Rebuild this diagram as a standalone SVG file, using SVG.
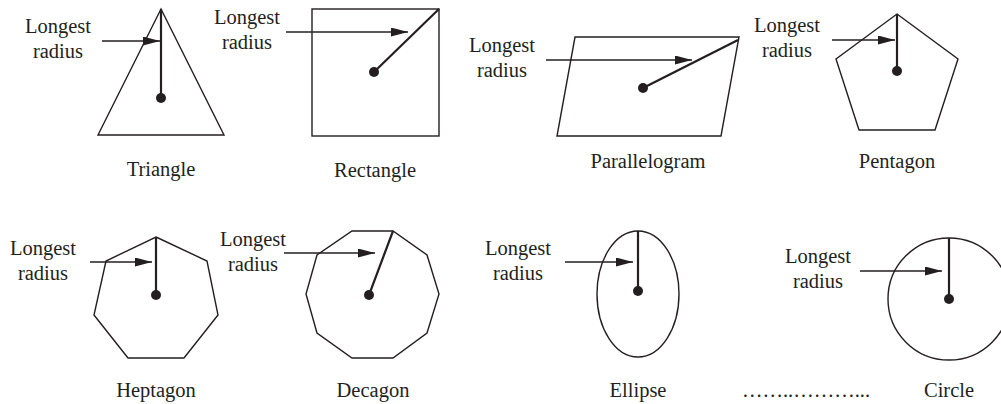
<svg xmlns="http://www.w3.org/2000/svg" width="1001" height="404" viewBox="0 0 1001 404">
<defs>
<marker id="ah" markerUnits="userSpaceOnUse" markerWidth="18" markerHeight="10" refX="17" refY="4.5" orient="auto">
<path d="M0,0 L17,4.5 L0,9 z" fill="#231f20"/>
</marker>
<style>
.shape{fill:none;stroke:#231f20;stroke-width:1.4;stroke-linejoin:miter}
.rad{stroke:#231f20;stroke-width:2.2;fill:none}
.arr{stroke:#231f20;stroke-width:1.4;fill:none;marker-end:url(#ah)}
.dot{fill:#231f20}
text{font-family:"Liberation Serif","Times New Roman",serif;font-size:20.5px;fill:#231f20;text-anchor:middle}
</style>
</defs>
<rect width="1001" height="404" fill="#ffffff"/>
<g id="triangle">
<polygon class="shape" points="161,9 224,135 98,135"/>
<line class="rad" x1="161" y1="9" x2="161" y2="98"/>
<circle class="dot" cx="161" cy="98" r="5"/>
<text x="161" y="176">Triangle</text>
</g>
<g id="rectangle">
<rect class="shape" x="312" y="9" width="127" height="127"/>
<line class="rad" x1="439" y1="9" x2="374" y2="72"/>
<circle class="dot" cx="374" cy="72" r="5"/>
<text x="375" y="177">Rectangle</text>
</g>
<g id="parallelogram">
<polygon class="shape" points="575,37 739,37 721,136 557,136"/>
<line class="rad" x1="738" y1="40" x2="643" y2="88"/>
<circle class="dot" cx="643" cy="88" r="5"/>
<text x="648" y="168">Parallelogram</text>
</g>
<g id="pentagon">
<polygon class="shape" points="897,14 958,59 935,130 859,130 836,59"/>
<line class="rad" x1="897" y1="14" x2="897" y2="71"/>
<circle class="dot" cx="897" cy="71" r="5"/>
<text x="897" y="168">Pentagon</text>
</g>
<g id="heptagon">
<polygon class="shape" points="156,237 207,261 218,315 184,358 128,358 94,315 106,261"/>
<line class="rad" x1="156" y1="237" x2="156" y2="295"/>
<circle class="dot" cx="156" cy="295" r="5"/>
<text x="156" y="397">Heptagon</text>
</g>
<g id="decagon">
<polygon class="shape" points="352,231 393,231 427,255 439,294 427,333 393,358 352,358 317,333 306,294 317,255"/>
<line class="rad" x1="393" y1="231" x2="369" y2="295"/>
<circle class="dot" cx="369" cy="295" r="5"/>
<text x="373" y="397">Decagon</text>
</g>
<g id="ellipse">
<ellipse class="shape" cx="638" cy="294" rx="41" ry="63"/>
<line class="rad" x1="638" y1="231" x2="638" y2="291"/>
<circle class="dot" cx="638" cy="291" r="5"/>
<text x="638" y="397">Ellipse</text>
</g>
<g id="circle">
<circle class="shape" cx="949" cy="299" r="61"/>
<line class="rad" x1="949" y1="238" x2="949" y2="299"/>
<circle class="dot" cx="949" cy="299" r="5"/>
<text x="949" y="397">Circle</text>
<text x="806" y="397">……..………...</text>
</g>
<g id="labels">
<text x="58" y="33">Longest</text><text x="58" y="58">radius</text>
<text x="247" y="24">Longest</text><text x="247" y="49">radius</text>
<text x="502" y="52">Longest</text><text x="502" y="77">radius</text>
<text x="787" y="32">Longest</text><text x="787" y="57">radius</text>
<text x="43" y="255">Longest</text><text x="43" y="280">radius</text>
<text x="253" y="246">Longest</text><text x="253" y="271">radius</text>
<text x="518" y="255">Longest</text><text x="518" y="280">radius</text>
<text x="818" y="263">Longest</text><text x="818" y="288">radius</text>
</g>
<g id="connectors">
<line class="arr" x1="102" y1="41" x2="160" y2="41"/>
<line class="arr" x1="286" y1="32" x2="408" y2="32"/>
<line class="arr" x1="546" y1="60" x2="692" y2="60"/>
<line class="arr" x1="832" y1="40" x2="895" y2="40"/>
<line class="arr" x1="90" y1="262" x2="152" y2="262"/>
<line class="arr" x1="284" y1="253" x2="375" y2="253"/>
<line class="arr" x1="565" y1="262" x2="633" y2="262"/>
<line class="arr" x1="860" y1="271" x2="942" y2="271"/>
</g>
</svg>
